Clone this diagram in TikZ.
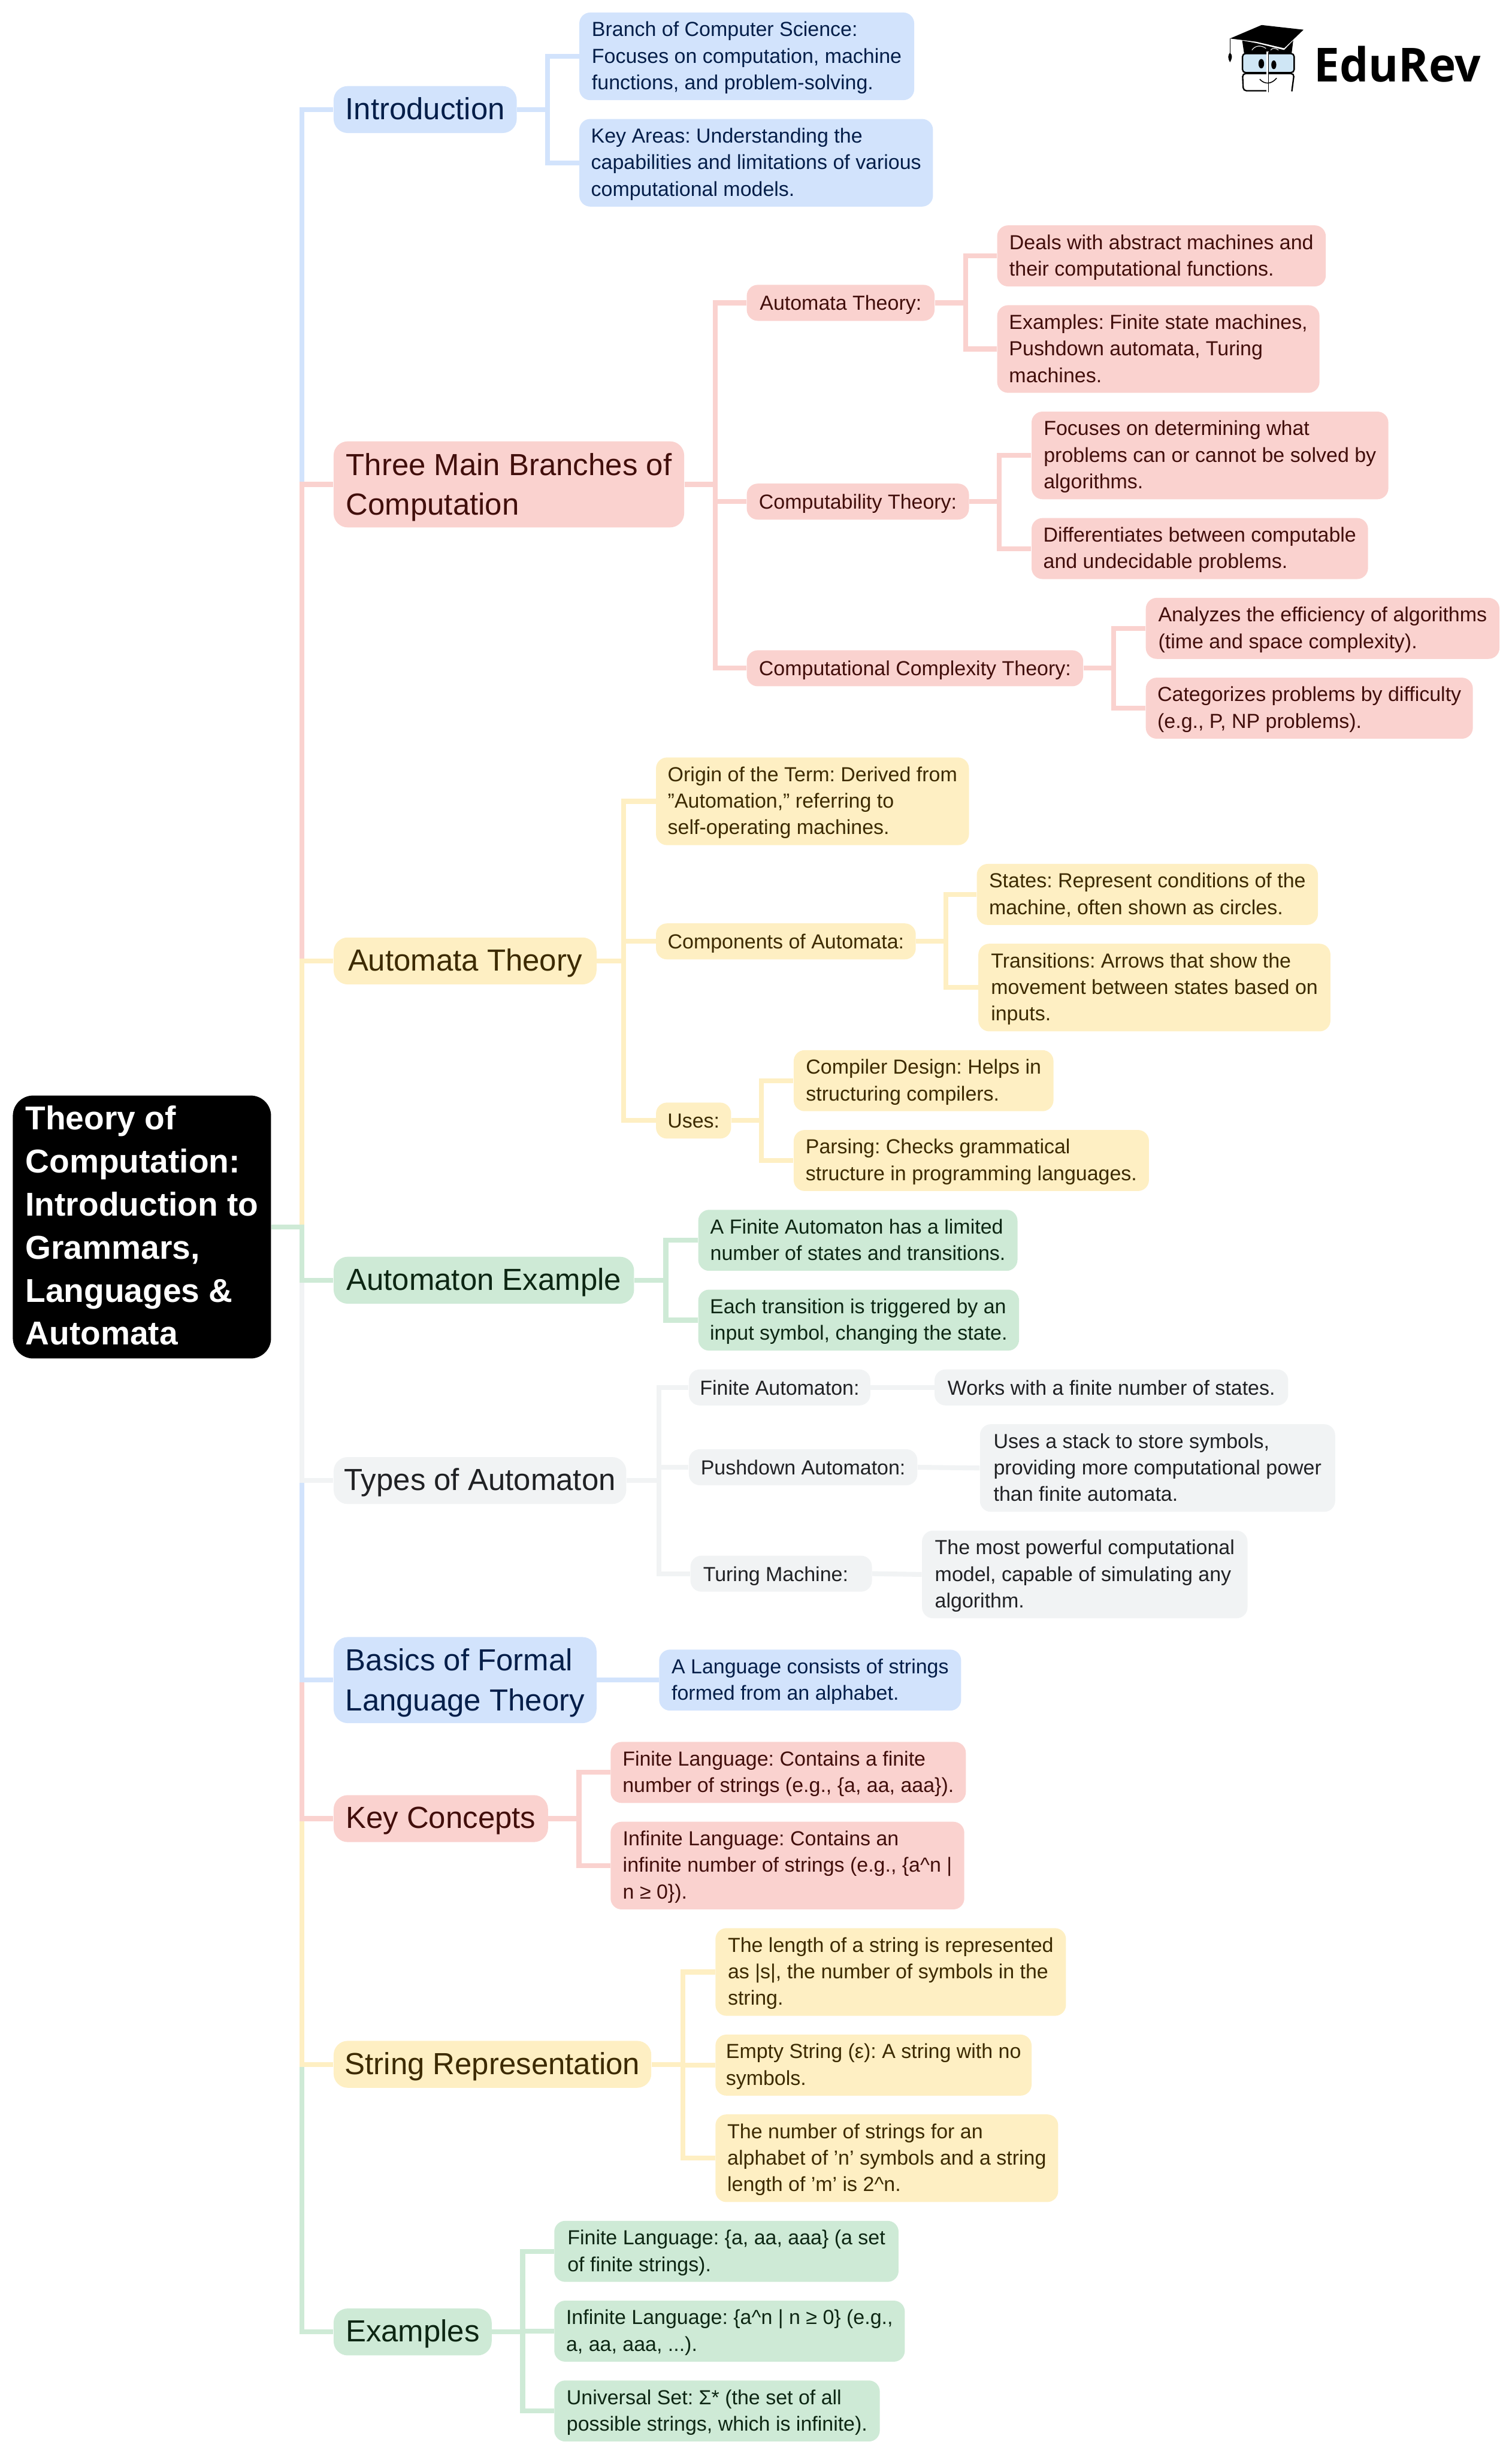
\documentclass[tikz,border=0pt]{standalone}
\usepackage{fontspec}
\setmainfont{Liberation Sans}
\newfontfamily\logofont{Open Sans}
\frenchspacing

\definecolor{blueFill}{HTML}{D2E3FC}
\definecolor{redFill}{HTML}{FAD2CF}
\definecolor{yellowFill}{HTML}{FEEFC3}
\definecolor{greenFill}{HTML}{CEEAD6}
\definecolor{grayFill}{HTML}{F1F3F4}
\definecolor{blueText}{HTML}{041E49}
\definecolor{redText}{HTML}{410E0B}
\definecolor{yellowText}{HTML}{3C2A00}
\definecolor{greenText}{HTML}{0D2613}
\definecolor{grayText}{HTML}{202124}
\definecolor{logoBlue}{HTML}{CFE6F5}

\begin{document}
\begin{tikzpicture}[x=1pt, y=-1pt]
    \tikzstyle{rect} = [shape=rectangle, align=left, inner sep=0pt, anchor=west]
    \tikzstyle{topic} = [rect, rounded corners=9pt, font=\fontsize{19.5}{25.5}\selectfont,
        execute at begin node={\rule{0pt}{17.1pt}}, execute at end node={\rule[-4.5pt]{0pt}{4.5pt}}]
    \tikzstyle{topictwo} = [topic, execute at begin node={\rule{0pt}{43.7pt}}]
    \tikzstyle{leaf} = [rect, rounded corners=7pt, font=\fontsize{13}{17}\selectfont,
        execute at begin node={\rule{0pt}{12.5pt}}, execute at end node={\rule[-3pt]{0pt}{3pt}}]
    \tikzstyle{one} = [leaf, minimum height=23]
    \tikzstyle{two} = [leaf, minimum height=39, execute at begin node={\rule{0pt}{28.5pt}}]
    \tikzstyle{three} = [leaf, minimum height=56, execute at begin node={\rule{0pt}{45.5pt}}]
    \tikzstyle{blue} = [fill=blueFill, text=blueText]
    \tikzstyle{red} = [fill=redFill, text=redText]
    \tikzstyle{yellow} = [fill=yellowFill, text=yellowText]
    \tikzstyle{green} = [fill=greenFill, text=greenText]
    \tikzstyle{gray} = [fill=grayFill, text=grayText]
    \tikzstyle{link} = [line width=3.1pt]
    \tikzstyle{bluelink} = [link, draw=blueFill]
    \tikzstyle{redlink} = [link, draw=redFill]
    \tikzstyle{yellowlink} = [link, draw=yellowFill]
    \tikzstyle{greenlink} = [link, draw=greenFill]
    \tikzstyle{graylink} = [link, draw=grayFill]

    \useasboundingbox (0, 0) rectangle (966, 1568);

    \node[rect, fill=black, text=white, rounded corners=13pt, minimum width=165, minimum height=168,
        font=\fontsize{21.1}{27.5}\selectfont\bfseries, execute at end node={\rule[-2pt]{0pt}{2pt}}]
        (root) at (8, 784)
        {Theory of\\Computation:\\Introduction to\\Grammars,\\Languages \&\\Automata};

    \coordinate (busRoot) at (193, 784);

    \node[topic, blue, minimum width=117, minimum height=30] (intro) at (213, 70) {Introduction};
        \coordinate (busIntro) at (350, 70);
        \node[three, blue, minimum width=214] (introBranch) at (370, 36)
            {Branch of Computer Science:\\Focuses on computation, machine\\functions, and problem-solving.};
        \node[three, blue, minimum width=226] (introAreas) at (370, 104)
            {Key Areas: Understanding the\\capabilities and limitations of various\\computational models.};

    \node[topictwo, red, minimum width=224, minimum height=55] (branches) at (213, 309.5)
        {Three Main Branches of\\Computation};
        \coordinate (busBranches) at (457, 309.5);
        \node[one, red, minimum width=120] (autoTheory) at (477, 193.5) {Automata Theory:};
            \coordinate (busAutoTheory) at (617, 193.5);
            \node[two, red, minimum width=210] (autoDeals) at (637, 163.5)
                {Deals with abstract machines and\\their computational functions.};
            \node[three, red, minimum width=206] (autoExamples) at (637, 223)
                {Examples: Finite state machines,\\Pushdown automata, Turing\\machines.};
        \node[one, red, minimum width=142] (compTheory) at (477, 320.5) {Computability Theory:};
            \coordinate (busCompTheory) at (638.5, 320.5);
            \node[three, red, minimum width=228] (compFocus) at (659, 291)
                {Focuses on determining what\\problems can or cannot be solved by\\algorithms.};
            \node[two, red, minimum width=215] (compDiff) at (659, 350.5)
                {Differentiates between computable\\and undecidable problems.};
        \node[one, red, minimum width=215] (complexTheory) at (477, 427) {Computational Complexity Theory:};
            \coordinate (busComplexTheory) at (711.5, 427);
            \node[two, red, minimum width=226] (complexEff) at (732, 401.5)
                {Analyzes the efficiency of algorithms\\(time and space complexity).};
            \node[two, red, minimum width=209] (complexCat) at (732, 452.5)
                {Categorizes problems by difficulty\\(e.g., P, NP problems).};

    \node[topic, yellow, minimum width=168, minimum height=30] (automata) at (213, 614) {Automata Theory};
        \coordinate (busAutomata) at (398.5, 614);
        \node[three, yellow, minimum width=200] (origin) at (419, 512)
            {Origin of the Term: Derived from\\"Automation," referring to\\self-operating machines.};
        \node[one, yellow, minimum width=166] (components) at (419, 601.5) {Components of Automata:};
            \coordinate (busComponents) at (604.5, 601.5);
            \node[two, yellow, minimum width=218] (states) at (624, 571.5)
                {States: Represent conditions of the\\machine, often shown as circles.};
            \node[three, yellow, minimum width=225] (transitions) at (625, 631)
                {Transitions: Arrows that show the\\movement between states based on\\inputs.};
        \node[one, yellow, minimum width=48] (uses) at (419, 716) {Uses:};
            \coordinate (busUses) at (486.5, 716);
            \node[two, yellow, minimum width=166] (compiler) at (507, 690.5)
                {Compiler Design: Helps in\\structuring compilers.};
            \node[two, yellow, minimum width=227] (parsing) at (507, 741.5)
                {Parsing: Checks grammatical\\structure in programming languages.};

    \node[topic, green, minimum width=192, minimum height=30] (example) at (213, 818) {Automaton Example};
        \coordinate (busExample) at (425.5, 818);
        \node[two, green, minimum width=204] (exampleFinite) at (446, 792.5)
            {A Finite Automaton has a limited\\number of states and transitions.};
        \node[two, green, minimum width=205] (exampleEach) at (446, 843.5)
            {Each transition is triggered by an\\input symbol, changing the state.};

    \node[topic, gray, minimum width=187, minimum height=30] (types) at (213, 946) {Types of Automaton};
        \coordinate (busTypes) at (421, 946);
        \node[one, gray, minimum width=116] (typeFinite) at (440, 886.5) {Finite Automaton:};
            \node[one, gray, minimum width=226] (typeWorks) at (597, 886.5) {Works with a finite number of states.};
        \node[one, gray, minimum width=146] (typePush) at (440, 937.5) {Pushdown Automaton:};
            \node[three, gray, minimum width=227] (typeStack) at (626, 938)
                {Uses a stack to store symbols,\\providing more computational power\\than finite automata.};
        \node[one, gray, minimum width=116] (typeTuring) at (441, 1005.5) {Turing Machine:\hspace*{7pt}};
            \node[three, gray, minimum width=208] (typePowerful) at (589, 1006)
                {The most powerful computational\\model, capable of simulating any\\algorithm.};

    \node[topictwo, blue, minimum width=168, minimum height=55] (basics) at (213, 1073.5)
        {Basics of Formal\\Language Theory};
        \node[two, blue, minimum width=193] (basicsLang) at (421, 1073.5)
            {A Language consists of strings\\formed from an alphabet.};

    \node[topic, red, minimum width=137, minimum height=30] (concepts) at (213, 1162) {Key Concepts};
        \coordinate (busConcepts) at (370, 1162);
        \node[two, red, minimum width=227] (conceptFinite) at (390, 1132.5)
            {Finite Language: Contains a finite\\number of strings (e.g., \{a, aa, aaa\}).};
        \node[three, red, minimum width=226] (conceptInfinite) at (390, 1192)
            {Infinite Language: Contains an\\infinite number of strings (e.g., \{a\^{}n |\\n ≥ 0\}).};

    \node[topic, yellow, minimum width=203, minimum height=30] (strings) at (213, 1319) {String Representation};
        \coordinate (busStrings) at (436.5, 1319);
        \node[three, yellow, minimum width=224] (stringLength) at (457, 1260)
            {The length of a string is represented\\as |s|, the number of symbols in the\\string.};
        \node[two, yellow, minimum width=202] (stringEmpty) at (457, 1319.5)
            {Empty String (ε): A string with no\\symbols.};
        \node[three, yellow, minimum width=219] (stringNumber) at (457, 1379)
            {The number of strings for an\\alphabet of 'n' symbols and a string\\length of 'm' is 2\^{}n.};

    \node[topic, green, minimum width=101, minimum height=30] (examples) at (213, 1490) {Examples};
        \coordinate (busExamples) at (334, 1490);
        \node[two, green, minimum width=220] (examplesFinite) at (354, 1438.5)
            {Finite Language: \{a, aa, aaa\} (a set\\of finite strings).};
        \node[two, green, minimum width=224] (examplesInfinite) at (354, 1489.5)
            {Infinite Language: \{a\^{}n | n ≥ 0\} (e.g.,\\a, aa, aaa, ...).};
        \node[two, green, minimum width=208] (examplesUniversal) at (354, 1540.5)
            {Universal Set: Σ* (the set of all\\possible strings, which is infinite).};

    \draw[bluelink]   (root.east) -- (busRoot) |- (intro.west);
    \draw[redlink]    (root.east) -- (busRoot) |- (branches.west);
    \draw[yellowlink] (root.east) -- (busRoot) |- (automata.west);
    \draw[greenlink]  (root.east) -- (busRoot) |- (examples.west);
    \draw[yellowlink] (root.east) -- (busRoot) |- (strings.west);
    \draw[redlink]    (root.east) -- (busRoot) |- (concepts.west);
    \draw[bluelink]   (root.east) -- (busRoot) |- (basics.west);
    \draw[graylink]   (root.east) -- (busRoot) |- (types.west);
    \draw[greenlink]  (root.east) -- (busRoot) |- (example.west);

    \draw[bluelink]   (intro.east) -- (busIntro) |- (introBranch.west);
    \draw[bluelink]   (intro.east) -- (busIntro) |- (introAreas.west);

    \draw[redlink]    (branches.east) -- (busBranches) |- (autoTheory.west);
    \draw[redlink]    (branches.east) -- (busBranches) |- (compTheory.west);
    \draw[redlink]    (branches.east) -- (busBranches) |- (complexTheory.west);
    \draw[redlink]    (autoTheory.east) -- (busAutoTheory) |- (autoDeals.west);
    \draw[redlink]    (autoTheory.east) -- (busAutoTheory) |- (autoExamples.west);
    \draw[redlink]    (compTheory.east) -- (busCompTheory) |- (compFocus.west);
    \draw[redlink]    (compTheory.east) -- (busCompTheory) |- (compDiff.west);
    \draw[redlink]    (complexTheory.east) -- (busComplexTheory) |- (complexEff.west);
    \draw[redlink]    (complexTheory.east) -- (busComplexTheory) |- (complexCat.west);

    \draw[yellowlink] (automata.east) -- (busAutomata) |- (origin.west);
    \draw[yellowlink] (automata.east) -- (busAutomata) |- (components.west);
    \draw[yellowlink] (automata.east) -- (busAutomata) |- (uses.west);
    \draw[yellowlink] (components.east) -- (busComponents) |- (states.west);
    \draw[yellowlink] (components.east) -- (busComponents) |- (transitions.west);
    \draw[yellowlink] (uses.east) -- (busUses) |- (compiler.west);
    \draw[yellowlink] (uses.east) -- (busUses) |- (parsing.west);

    \draw[greenlink]  (example.east) -- (busExample) |- (exampleFinite.west);
    \draw[greenlink]  (example.east) -- (busExample) |- (exampleEach.west);

    \draw[graylink]   (types.east) -- (busTypes) |- (typeFinite.west);
    \draw[graylink]   (types.east) -- (busTypes) |- (typePush.west);
    \draw[graylink]   (types.east) -- (busTypes) |- (typeTuring.west);
    \draw[graylink]   (typeFinite.east) -- (typeWorks.west);
    \draw[graylink]   (typePush.east) -- (typeStack.west);
    \draw[graylink]   (typeTuring.east) -- (typePowerful.west);

    \draw[bluelink]   (basics.east) -- (basicsLang.west);

    \draw[redlink]    (concepts.east) -- (busConcepts) |- (conceptFinite.west);
    \draw[redlink]    (concepts.east) -- (busConcepts) |- (conceptInfinite.west);

    \draw[yellowlink] (strings.east) -- (busStrings) |- (stringLength.west);
    \draw[yellowlink] (strings.east) -- (busStrings) |- (stringEmpty.west);
    \draw[yellowlink] (strings.east) -- (busStrings) |- (stringNumber.west);

    \draw[greenlink]  (examples.east) -- (busExamples) |- (examplesFinite.west);
    \draw[greenlink]  (examples.east) -- (busExamples) |- (examplesInfinite.west);
    \draw[greenlink]  (examples.east) -- (busExamples) |- (examplesUniversal.west);

    \fill[black] (786, 24.6) -- (806.2, 16) -- (833, 19) -- (820.6, 30.8) -- (803, 26.7) -- cycle;
    \fill[black] (793.8, 25.9) -- (803, 27.6) -- (820.6, 32) -- (826.4, 25.9) -- (825.4, 34) -- (795, 34) -- cycle;
    \draw[black, line width=0.5pt] (786, 24.6) -- (786, 34);
    \fill[black] (786, 33.6) .. controls (784.5, 35.5) and (784.5, 37) .. (786, 39.8)
        .. controls (787.5, 37) and (787.8, 35.5) .. (786, 33.6);
    \draw[black, fill=logoBlue, line width=0.9pt, rounded corners=2pt] (794, 34.2) rectangle (827, 46.4);
    \draw[black, line width=0.9pt, rounded corners=2pt] (810, 58) -- (794.5, 58) -- (794, 47) -- (827, 47) -- (825.5, 58.4);
    \draw[white, line width=1.4pt] (810, 33) -- (810, 59);
    \draw[black, line width=0.7pt] (810.6, 33.2) -- (810.6, 58.8);
    \fill[black] (806, 40.7) ellipse (1.8 and 3);
    \fill[black] (814, 41.4) ellipse (1.6 and 2.8);
    \draw[black, line width=0.6pt] (805, 50.6) .. controls (808, 54) and (812.5, 54) .. (815.8, 49.9);
    \draw[white, line width=0.4pt] (800, 32) .. controls (802, 29) and (806, 28.6) .. (809, 31);
    \draw[white, line width=0.4pt] (812, 32) .. controls (813, 30.5) and (815, 30.5) .. (817, 32);

    \node[inner sep=0pt, anchor=west, xscale=.975, font=\fontsize{30}{30}\logofont\bfseries] (logoText) at (839.5, 41) {EduRev};
\end{tikzpicture}
\end{document}
